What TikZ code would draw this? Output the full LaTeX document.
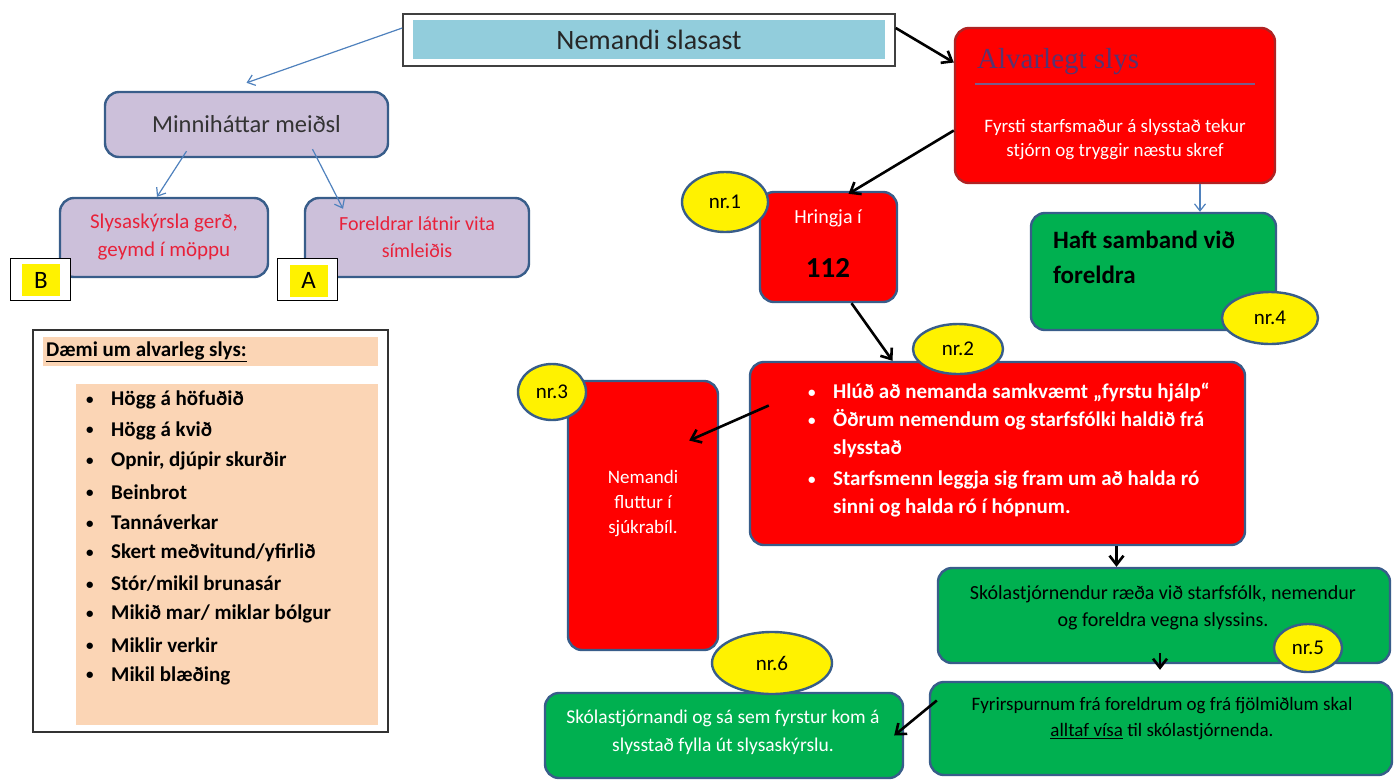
\documentclass[tikz,border=0pt]{standalone}
\usepackage{fontspec}
\setmainfont{Carlito}
\newfontfamily\titlefont{Liberation Serif}
\usetikzlibrary{arrows.meta,shapes.geometric}

\definecolor{lightblue}{RGB}{146,205,220}
\definecolor{lavender}{RGB}{204,192,218}
\definecolor{boxblue}{RGB}{56,93,138}
\definecolor{alarmred}{RGB}{255,0,0}
\definecolor{darkred}{RGB}{175,35,35}
\definecolor{okgreen}{RGB}{0,176,80}
\definecolor{peach}{RGB}{251,213,181}
\definecolor{warnred}{RGB}{232,33,58}
\definecolor{titlepurple}{RGB}{88,52,112}
\definecolor{arrblue}{RGB}{79,129,189}

\newcommand{\fsz}[2]{\fontsize{#1}{#2}\selectfont}
\newcommand{\bul}{\makebox[25pt][l]{\raisebox{1.5pt}{\fsz{15}{15}\textbullet}}}

\begin{document}
\begin{tikzpicture}[x=1pt,y=-1pt,font=\fsz{20}{27},
	box/.style={draw=boxblue,line width=2.4pt,rounded corners=14pt,align=center,inner sep=0pt},
	purplebox/.style={box,fill=lavender},
	redbox/.style={box,fill=alarmred},
	greenbox/.style={box,fill=okgreen},
	badge/.style={ellipse,draw=boxblue,line width=2.4pt,fill=yellow,inner sep=0pt,font=\fsz{21}{24}},
	tag/.style={draw=black,line width=1pt,fill=white,minimum width=60pt,minimum height=42pt},
	tagtxt/.style={fill=yellow,minimum width=38pt,minimum height=32pt,font=\fsz{25}{28}},
	bluearr/.style={draw=arrblue,line width=1.2pt,-{Straight Barb[length=7pt,width=11pt]}},
	blackarr/.style={draw=black,line width=2.6pt,-{Straight Barb[length=9pt,width=14pt]}},
	item/.style={anchor=west,inner sep=0pt,font=\bfseries\fsz{21}{24}}]
	\useasboundingbox (0,0) rectangle (1400,780);

	% start
	\node[draw=black!75,line width=1.5pt,fill=white,minimum width=492pt,minimum height=52pt] (top) at (649,40) {};
	\node[fill=lightblue,minimum width=472pt,minimum height=39pt,font=\fsz{28}{30},text=black!85] (toptxt) at (649,39.5) {Nemandi slasast};

	% minor injuries
	\node[purplebox,minimum width=283pt,minimum height=65pt,font=\fsz{24.5}{28},text=black!80] (minor) at (246.5,124.5) {Minniháttar meiðsl};
	\node[purplebox,minimum width=208pt,minimum height=79pt,font=\fsz{21}{28},text=warnred] (report) at (164,237.5) {Slysaskýrsla gerð,\\geymd í möppu};
	\node[purplebox,minimum width=224pt,minimum height=79pt,font=\fsz{20}{27},text=warnred] (phone) at (417,237.5) {Foreldrar látnir vita\\símleiðis};
	\node[tag] (tagB) at (40,279) {};
	\node[tagtxt] (tagBtxt) at (41,280) {B};
	\node[tag] (tagA) at (307.5,279.5) {};
	\node[tagtxt] (tagAtxt) at (308.5,280.5) {A};

	% serious
	\node[box,draw=darkred,fill=alarmred,minimum width=320pt,minimum height=155pt] (serious) at (1115,105.5) {};
	\node[anchor=west,inner sep=0pt,font=\titlefont\fsz{29}{32},text=titlepurple] (serioustitle) at (977,62) {Alvarlegt slys};
	\draw[titlepurple!80,line width=1.2pt] (975,84) -- (1255,84);
	\node[align=center,text=white,font=\fsz{19}{24}] (serioustxt) at (1115,140) {Fyrsti starfsmaður á slysstað tekur\\stjórn og tryggir næstu skref};

	\node[redbox,minimum width=137pt,minimum height=110pt] (call) at (828.5,247) {};
	\node[text=white,font=\fsz{20}{22}] (calltxt) at (828,218) {Hringja í};
	\node[font=\bfseries\fsz{29}{32}] (callnum) at (828,268) {112};

	\node[greenbox,minimum width=245pt,minimum height=117pt] (parents) at (1153.5,271.5) {};
	\node[anchor=north west,align=left,inner sep=0pt,font=\bfseries\fsz{25}{35}] (parentstxt) at (1053,231) {Haft samband við\\foreldra};

	\node[redbox,minimum width=495pt,minimum height=183pt] (aid) at (997.5,453.5) {};
	\node[anchor=north west,align=left,inner sep=0pt,text=white,font=\bfseries\fsz{21}{28}] (aidtxt) at (808,383) {\bul Hlúð að nemanda samkvæmt „fyrstu hjálp“\\\bul Öðrum nemendum og starfsfólki haldið frá\\\hspace*{25pt}slysstað\\[3pt]\bul Starfsmenn leggja sig fram um að halda ró\\\hspace*{25pt}sinni og halda ró í hópnum.};

	\node[redbox,minimum width=150pt,minimum height=269pt] (ambul) at (643,515.5) {};
	\node[text=white,align=center,font=\fsz{19}{25}] (ambultxt) at (643,504) {Nemandi\\fluttur í\\sjúkrabíl.};

	\node[greenbox,minimum width=452pt,minimum height=95pt] (heads) at (1164,615.5) {};
	\node[align=center] (headstxt) at (1163,607.5) {Skólastjórnendur ræða við starfsfólk, nemendur\\og foreldra vegna slyssins.};

	\node[greenbox,minimum width=462pt,minimum height=93pt] (ask) at (1161,728.5) {};
	\node[align=center,font=\fsz{19}{26}] (asktxt) at (1162,719) {Fyrirspurnum frá foreldrum og frá fjölmiðlum skal\\\underline{alltaf vísa} til skólastjórnenda.};

	\node[greenbox,minimum width=358pt,minimum height=85pt] (form) at (724,735.5) {};
	\node[align=center,text=white,font=\fsz{19.5}{28}] (formtxt) at (723,732) {Skólastjórnandi og sá sem fyrstur kom á\\slysstað fylla út slysaskýrslu.};

	% examples
	\node[draw=black!80,line width=1.2pt,fill=white,minimum width=355pt,minimum height=402pt] (examples) at (210.5,531) {};
	\node[fill=peach,minimum width=335pt,minimum height=29pt] (exhead) at (210.5,351.5) {};
	\node[item] (exheadtxt) at (46,352) {\underline{Dæmi um alvarleg slys:}};
	\node[fill=peach,minimum width=302pt,minimum height=341pt] (exlist) at (227,554.5) {};
	\foreach \t [count=\i] in {Högg á höfuðið,Högg á kvið,{Opnir, djúpir skurðir},Beinbrot,Tannáverkar,Skert meðvitund/yfirlið,Stór/mikil brunasár,Mikið mar/ miklar bólgur,Miklir verkir,Mikil blæðing}
		\node[item] (ex\i) at (86,{400+30.6*(\i-1)}) {\bul\t};

	% arrows
	\draw[bluearr] ([yshift=12pt]top.west) -- ([yshift=8pt]minor.north);
	\draw[bluearr] ([xshift=-60pt,yshift=7pt]minor.south) -- ([xshift=-7pt]report.north);
	\draw[bluearr] ([xshift=66pt,yshift=9pt]minor.south) -- ([xshift=-74pt,yshift=-12pt]phone.north);
	\draw[blackarr] ([yshift=12pt]top.east) -- ([yshift=43pt]serious.west);
	\draw[blackarr] ([yshift=-25pt]serious.west) -- ([xshift=20pt,yshift=-3pt]call.north);
	\draw[bluearr] ([xshift=85pt]serious.south) -- ([xshift=85pt]serious.south |- parents.north);
	\draw[blackarr] ([xshift=23pt]call.south) -- ([xshift=-105pt]aid.north);
	\draw[blackarr] ([xshift=20pt,yshift=48pt]aid.west) -- ([xshift=-30pt,yshift=75pt]ambul.east);
	\draw[blackarr] ([xshift=119pt]aid.south) -- ([xshift=119pt]aid.south |- heads.north);
	\draw[blackarr] ([xshift=-4pt,yshift=11pt]heads.south) -- ([xshift=-4pt,yshift=11pt]heads.south |- ask.north);
	\draw[blackarr] ([xshift=8pt,yshift=28pt]ask.west) -- ([xshift=-10pt]form.east);

	% numbers
	\node[badge,minimum width=86pt,minimum height=60pt] (n1) at (725,202) {nr.1};
	\node[badge,minimum width=90pt,minimum height=50pt] (n2) at (958,349) {nr.2};
	\node[badge,minimum width=68pt,minimum height=56pt] (n3) at (552,392) {nr.3};
	\node[badge,minimum width=96pt,minimum height=52pt] (n4) at (1270,318) {nr.4};
	\node[badge,minimum width=68pt,minimum height=48pt] (n5) at (1308,648) {nr.5};
	\node[badge,minimum width=120pt,minimum height=62pt] (n6) at (772,663) {nr.6};
\end{tikzpicture}
\end{document}
